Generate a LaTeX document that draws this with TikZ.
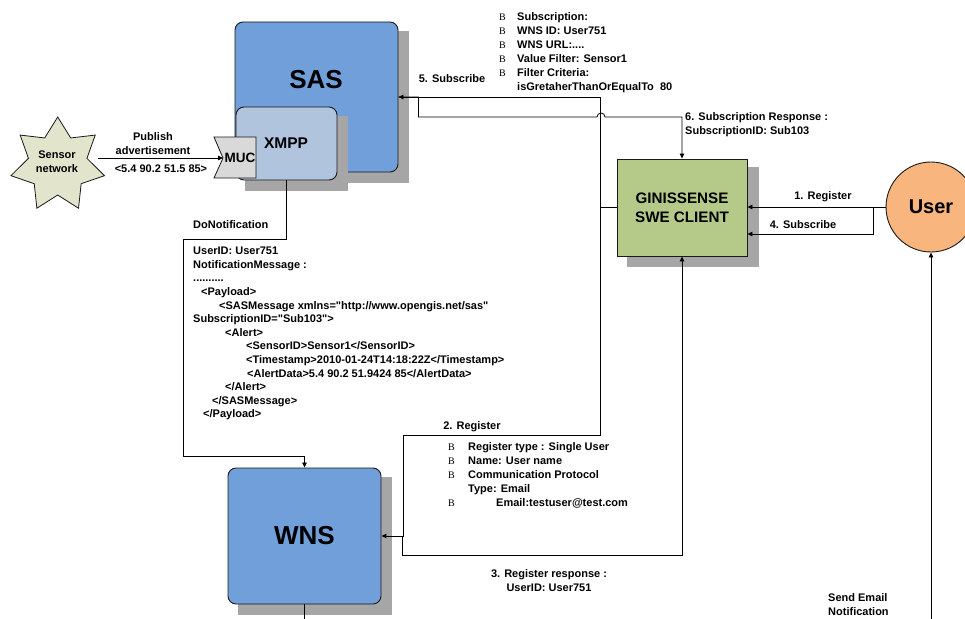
\documentclass[tikz,border=0pt]{standalone}
\usepackage{fontspec}
\setmainfont{Liberation Sans}[Ligatures=TeXOff]
\newfontfamily\bserif{Liberation Serif}
\usetikzlibrary{arrows.meta,shapes.geometric}
\definecolor{sasblue}{HTML}{709FD9}
\definecolor{xmppblue}{HTML}{B0C4DE}
\definecolor{gingreen}{HTML}{B5CA88}
\definecolor{userorange}{HTML}{F8B57E}
\definecolor{starfill}{HTML}{E2E5CC}
\definecolor{mucgray}{HTML}{D9D9D9}
\definecolor{shadowc}{HTML}{A6A6A6}
\newcommand{\bul}[1]{\makebox[#1][l]{\bserif\mdseries\fontsize{10}{14}\selectfont B}}
\begin{document}
\begin{tikzpicture}[x=1pt,y=-1pt,
  conn/.style={draw=black, line width=0.8pt},
  arr/.style={-{Triangle[length=5pt,width=4.5pt]}},
  boxline/.style={draw=black!90, line width=0.9pt},
  tx/.style={font=\fontsize{11}{14}\selectfont\bfseries, inner sep=0pt, align=left},
  big/.style={font=\fontsize{26}{30}\selectfont\bfseries, inner sep=0pt},
]
\useasboundingbox (0,0) rectangle (965,618);
\clip (0,0) rectangle (965,618);

% SAS
\fill[shadowc] (245,31) rectangle (409,183);
\node[boxline, fill=sasblue, rounded corners=8pt, minimum width=163pt, minimum height=150pt, inner sep=0pt] (sas) at (316.5,97) {};
\node[big] (saslbl) at (316,80) {SAS};

% XMPP
\fill[shadowc] (245,116) rectangle (348,191);
\node[boxline, fill=xmppblue, rounded corners=8pt, minimum width=101pt, minimum height=73pt, inner sep=0pt,
      font=\fontsize{15.5}{18}\selectfont\bfseries] (xmpp) at (286.5,143.5) {};
\node[font=\fontsize{15.5}{18}\selectfont\bfseries, inner sep=0pt] (xmpplbl) at (286,143) {XMPP};

% MUC
\draw[boxline, line width=0.8pt, fill=mucgray] (214,137) -- (256,137) -- (256,178) -- (214,178) -- (223,158) -- cycle;
\coordinate (muc) at (223,158);
\node[font=\fontsize{13.5}{16}\selectfont\bfseries, inner sep=0pt] (muclbl) at (240,158) {MUC};

% Sensor network
\node[star, star points=7, star point ratio=1.6, minimum size=96pt, inner sep=0pt, draw=black!90, line width=0.8pt, fill=starfill] (sensor) at (57.7,165) {};
\node[tx, align=center, anchor=north] (sensorlbl) at (57,151) {Sensor\\network};
\coordinate (pubstart) at (98,158);

% GINISSENSE
\fill[shadowc] (627,167) rectangle (759,267);
\node[boxline, fill=gingreen, minimum width=130pt, minimum height=97pt, inner sep=0pt, align=center,
      font=\fontsize{15.2}{19}\selectfont\bfseries] (gin) at (682,207.5) {GINISSENSE\\SWE CLIENT};

% User
\node[circle, boxline, fill=userorange, minimum size=90pt, inner sep=0pt,
      font=\fontsize{20}{24}\selectfont\bfseries] (user) at (931,207) {User};

% WNS
\fill[shadowc] (238,477) rectangle (392,615);
\node[boxline, fill=sasblue, rounded corners=8pt, minimum width=153pt, minimum height=136pt, inner sep=0pt,
      font=\fontsize{26}{30}\selectfont\bfseries] (wns) at (304.5,536) {WNS};

% Connectors
\draw[conn, arr] (pubstart) -- (muc);
\draw[conn, arr] (gin.west) -- ++(-16,0) |- (sas.east);
\draw[conn, arr] (sas.east) -- ++(20,0) |- (597,117) arc(180:360:4) -- (gin.north |- 0,117) -- (gin.north);
\draw[conn, arr] (user.west) -- (user.west -| gin.east);
\coordinate (s4) at (873,207);
\draw[conn, arr] (s4) |- (gin.east |- 0,234);
\draw[conn, arr] (gin.west) -- ++(-16,0) |- (403,435) |- (wns.east);
\draw[conn, arr] (wns.east) ++(21,0) |- (gin.south |- 0,555) -- (gin.south);
\draw[conn, arr] (xmpp.south) |- (183,239) |- (wns.north |- 0,456) -- (wns.north);
\draw[conn] (wns.south) -- (wns.south |- 0,630);
\draw[conn, arr] (user.south |- 0,630) -- (user.south);

% Labels
\node[tx, align=center, anchor=north] (publbl) at (153,132) {Publish\\advertisement};
\node[tx, anchor=north] (vallbl) at (161,165) {<5.4 90.2 51.5 85>};
\node[tx, anchor=north] (sub5) at (452,74) {5. Subscribe};
\node[tx, anchor=north west] (sublist) at (499,12) {%
\bul{18pt}Subscription:\\
\bul{18pt}WNS ID: User751\\
\bul{18pt}WNS URL:....\\
\bul{18pt}Value Filter: Sensor1\\
\bul{18pt}Filter Criteria:\\
\hspace*{18pt}isGretaherThanOrEqualTo\ \ 80};
\node[tx, anchor=north west] (resp6) at (685,112) {6. Subscription Response :\\SubscriptionID: Sub103};
\node[tx, anchor=north] (reg1) at (823,191) {1. Register};
\node[tx, anchor=north] (sub4) at (803,220) {4. Subscribe};
\node[tx, anchor=north west] (donot) at (193,220) {DoNotification};
\node[tx, anchor=north west, font=\fontsize{11}{13.6}\selectfont\bfseries] (xml) at (193,247) {%
UserID: User751\\
NotificationMessage :\\
..........\\
\hspace*{8pt}<Payload>\\
\hspace*{26pt}<SASMessage xmlns="http://www.opengis.net/sas"\\
SubscriptionID="Sub103">\\
\hspace*{32pt}<Alert>\\
\hspace*{53pt}<SensorID>Sensor1</SensorID>\\
\hspace*{53pt}<Timestamp>2010-01-24T14:18:22Z</Timestamp>\\
\hspace*{54pt}<AlertData>5.4 90.2 51.9424 85</AlertData>\\
\hspace*{32pt}</Alert>\\
\hspace*{19pt}</SASMessage>\\
\hspace*{10pt}</Payload>};
\node[tx, anchor=north] (reg2) at (472,421) {2. Register};
\node[tx, anchor=north west] (reglist) at (448,442) {%
\bul{20pt}Register type : Single User\\
\bul{20pt}Name: User name\\
\bul{20pt}Communication Protocol\\
\hspace*{20pt}Type: Email\\
\bul{20pt}\hspace*{28pt}Email:testuser@test.com};
\node[tx, align=center, anchor=north] (resp3) at (549,569) {3. Register response :\\UserID: User751};
\node[tx, anchor=north west] (sendmail) at (828,593) {Send Email\\Notification};
\end{tikzpicture}
\end{document}
